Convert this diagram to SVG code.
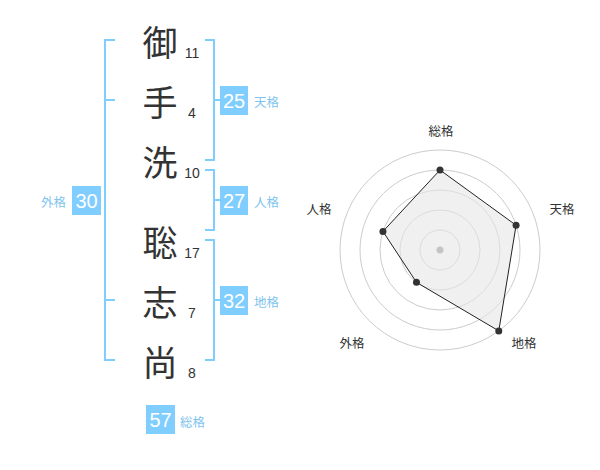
<svg xmlns="http://www.w3.org/2000/svg" width="600" height="470" viewBox="0 0 600 470">
<style>
.ch{font-family:"Noto Sans CJK JP","Noto Sans CJK SC",sans-serif;font-size:35px;fill:#333;text-anchor:middle;dominant-baseline:central}
.num{font-family:"Liberation Sans",Arial,sans-serif;font-size:14px;fill:#333;text-anchor:middle}
.br{fill:none;stroke:#80cdff;stroke-width:2}
.box{fill:#80cdff}
.bn{font-family:"Liberation Sans",Arial,sans-serif;font-size:20px;fill:#fff;text-anchor:middle;dominant-baseline:central}
.lb{font-family:"Noto Sans CJK JP",sans-serif;font-size:12.5px;fill:#80c4ee;dominant-baseline:central}
.ring{fill:none;stroke:#ccc;stroke-width:1}
.rl{font-family:"Noto Sans CJK JP",sans-serif;font-size:12.5px;fill:#333;text-anchor:middle;dominant-baseline:central}
</style>
<rect width="600" height="470" fill="#fff"/>
<g id="chars">
<text class="ch" x="160" y="40">御</text>
<text class="ch" x="160" y="100">手</text>
<text class="ch" x="160" y="160">洗</text>
<text class="ch" x="160" y="240">聡</text>
<text class="ch" x="160" y="300">志</text>
<text class="ch" x="160" y="360">尚</text>
<text class="num" x="192" y="58">11</text>
<text class="num" x="192" y="118">4</text>
<text class="num" x="192" y="178">10</text>
<text class="num" x="192" y="258">17</text>
<text class="num" x="192" y="318">7</text>
<text class="num" x="192" y="378">8</text>
</g>
<g id="connectors">
<path class="br" d="M115 40H105V360H115M105 100H115M105 300H115"/>
<path class="br" d="M205 40H214V160H205M214 100H220"/>
<path class="br" d="M205 170H214V230H205M214 200H220"/>
<path class="br" d="M205 240H214V360H205M214 300H220"/>
</g>
<g id="tenkaku">
<rect class="box" x="220" y="86" width="28" height="29"/>
<text class="bn" x="234" y="101">25</text>
<text class="lb" x="254" y="101">天格</text>
</g>
<g id="jinkaku">
<rect class="box" x="220" y="186" width="28" height="29"/>
<text class="bn" x="234" y="201">27</text>
<text class="lb" x="254" y="201">人格</text>
</g>
<g id="chikaku">
<rect class="box" x="220" y="286" width="28" height="29"/>
<text class="bn" x="234" y="301">32</text>
<text class="lb" x="254" y="301">地格</text>
</g>
<g id="gaikaku">
<rect class="box" x="72" y="186" width="29" height="29"/>
<text class="bn" x="86.5" y="201">30</text>
<text class="lb" x="66" y="201" text-anchor="end">外格</text>
</g>
<g id="soukaku">
<rect class="box" x="146" y="405" width="29" height="29"/>
<text class="bn" x="160.5" y="420">57</text>
<text class="lb" x="180" y="421">総格</text>
</g>
<g id="radar">
<circle class="ring" cx="440" cy="250" r="20"/>
<circle class="ring" cx="440" cy="250" r="40"/>
<circle class="ring" cx="440" cy="250" r="60"/>
<circle class="ring" cx="440" cy="250" r="80"/>
<circle class="ring" cx="440" cy="250" r="100"/>
<polygon points="440,170 516.08,225.28 498.78,330.9 416.49,282.36 382.94,231.46" fill="#e6e6e6" fill-opacity="0.6" stroke="#222" stroke-width="1"/>
<circle cx="440" cy="250" r="3.5" fill="#c4c4c4"/>
<circle cx="440" cy="170" r="3.5" fill="#333"/>
<circle cx="516.08" cy="225.28" r="3.5" fill="#333"/>
<circle cx="498.78" cy="330.9" r="3.5" fill="#333"/>
<circle cx="416.49" cy="282.36" r="3.5" fill="#333"/>
<circle cx="382.94" cy="231.46" r="3.5" fill="#333"/>
<text class="rl" x="441" y="130">総格</text>
<text class="rl" x="562" y="208">天格</text>
<text class="rl" x="524" y="342">地格</text>
<text class="rl" x="352" y="342">外格</text>
<text class="rl" x="319" y="208">人格</text>
</g>
</svg>
